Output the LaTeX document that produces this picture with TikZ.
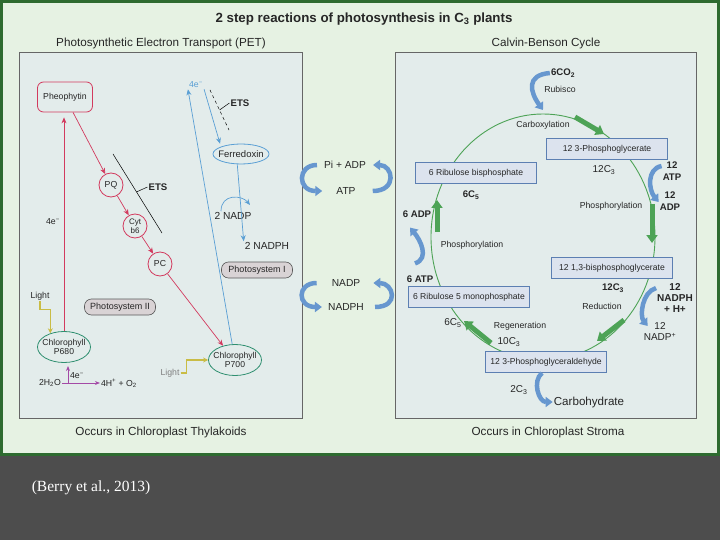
\documentclass[tikz,border=0pt]{standalone}
\usepackage{fontspec}
\setmainfont{Liberation Sans}
\newfontfamily\citefont{Liberation Serif}
\usetikzlibrary{arrows.meta,shapes.geometric,calc}
\definecolor{slidegray}{HTML}{4D4D4D}
\definecolor{framegreen}{HTML}{2E6B30}
\definecolor{framefill}{HTML}{E6F2E3}
\definecolor{panelfill}{HTML}{E3ECEB}
\definecolor{petred}{HTML}{D23A5E}
\definecolor{chlgreen}{HTML}{2F8F70}
\definecolor{etsblue}{HTML}{5A9FD4}
\definecolor{pillfill}{HTML}{D9D3D5}
\definecolor{boxfill}{HTML}{DCE3EE}
\definecolor{boxedge}{HTML}{5C7FB2}
\definecolor{arrblue}{HTML}{6797CF}
\definecolor{cycgreen}{HTML}{4DA356}
\definecolor{olive}{HTML}{C9BC45}
\definecolor{purp}{HTML}{A44AA6}
\tikzset{
  lbl/.style={font=\fontsize{8.7}{10}\selectfont, inner sep=1pt, text=black!85},
  clbl/.style={lbl, font=\fontsize{10}{11}\selectfont},
  blbl/.style={lbl, font=\bfseries\fontsize{9.6}{12}\selectfont, align=center},
  mlbl/.style={lbl, font=\fontsize{10.2}{11}\selectfont},
  head/.style={font=\fontsize{11.7}{13}\selectfont, text=black!85},
  panel/.style={draw=black!60, line width=0.8pt, fill=panelfill},
  redbox/.style={lbl, draw=petred, line width=0.8pt, rounded corners=6pt, minimum width=55pt, minimum height=30pt},
  redcirc/.style={lbl, circle, draw=petred, line width=0.8pt, minimum size=24pt, inner sep=-2pt},
  chl/.style={lbl, ellipse, draw=chlgreen, line width=0.8pt, minimum width=53pt, minimum height=31pt, inner sep=-5pt, align=center, font=\fontsize{8.6}{9}\selectfont},
  pill/.style={lbl, draw=black!65, fill=pillfill, line width=0.6pt, rounded corners=7pt, minimum width=71pt, minimum height=16pt, font=\fontsize{9}{10}\selectfont},
  cbox/.style={lbl, draw=boxedge, fill=boxfill, line width=1pt, minimum width=121pt, minimum height=21pt, font=\fontsize{8.6}{9}\selectfont},
  redarr/.style={-{Stealth[length=6pt,width=5pt]}, draw=petred, line width=0.7pt},
  bluearr/.style={-{Stealth[length=6pt,width=5pt]}, draw=etsblue, line width=0.7pt},
  etsline/.style={draw=black, line width=0.5pt},
  lightarr/.style={-{Stealth[length=5pt,width=5pt]}, draw=olive, line width=1.3pt},
  purparr/.style={-{Stealth[length=5pt,width=4pt]}, draw=purp, line width=0.9pt},
  bigarr/.style={-{Triangle[length=7pt,width=10pt]}, draw=arrblue, line width=4.5pt},
  cycarr/.style={-{Triangle[length=8pt,width=11pt]}, draw=cycgreen, line width=5pt},
}
\begin{document}
\begin{tikzpicture}[x=1pt,y=-1pt]
\useasboundingbox (0,0) rectangle (720,540);
% --- slide + frame ---
\fill[slidegray] (0,0) rectangle (720,540);
\draw[framegreen, line width=2.5pt, fill=framefill] (1.5,1.5) rectangle (718.5,454.5);
\node[text=white, font=\citefont\fontsize{15.5}{17}\selectfont] (cite) at (91,488) {(Berry et al., 2013)};

% --- titles + panels ---
\node[font=\bfseries\fontsize{13.3}{15}\selectfont, text=black!85] (title) at (364,19) {2 step reactions of photosynthesis in C\textsubscript{3} plants};
\node[head] (pethead) at (161,43) {Photosynthetic Electron Transport (PET)};
\node[head] (cbhead) at (546,43) {Calvin-Benson Cycle};
\draw[panel] (19,52) rectangle (302,418);
\draw[panel] (395,52) rectangle (696,418);
\node[head] (thyl) at (161,432) {Occurs in Chloroplast Thylakoids};
\node[head] (strom) at (548,432) {Occurs in Chloroplast Stroma};

% --- PET: carriers ---
\node[redbox] (pheo) at (65,97) {Pheophytin};
\node[redcirc] (pq) at (111,185) {PQ};
\node[redcirc, align=center, font=\fontsize{8}{8.5}\selectfont] (cyt) at (135,226) {Cyt\\b6};
\node[redcirc] (pc) at (160,264) {PC};
\node[chl] (p680) at (64,347) {Chlorophyll\\P680};
\node[chl] (p700) at (235,360) {Chlorophyll\\P700};
\node[lbl, ellipse, draw=etsblue, line width=0.8pt, minimum width=56pt, minimum height=20pt, inner sep=-5pt, font=\fontsize{9.5}{10}\selectfont] (ferr) at (241,154) {Ferredoxin};
\node[pill] (ps2) at (120,307) {Photosystem II};
\node[pill] (ps1) at (257,270) {Photosystem I};

% --- PET: labels ---
\node[lbl] (e4a) at (53,222) {4e\textsuperscript{−}};
\node[lbl, text=etsblue] (e4b) at (196,85) {4e\textsuperscript{−}};
\node[blbl] (ets1) at (158,187) {ETS};
\node[blbl] (ets2) at (240,103) {ETS};
\node[mlbl] (nadp2) at (233,216) {2 NADP};
\node[mlbl] (nadph2) at (267,246) {2 NADPH};
\node[lbl] (light1) at (40,296) {Light};
\node[lbl, text=black!50] (light2) at (170,373) {Light};
\node[lbl] (h2o) at (50,383) {2H\textsubscript{2}O};
\node[lbl] (hplus) at (119,383) {4H\textsuperscript{+} + O\textsubscript{2}};
\node[lbl] (e4c) at (77,376) {4e\textsuperscript{−}};

% --- PET: electron flow ---
\draw[redarr, shorten >=5pt] (p680.north) -- (p680.north |- pheo.south);
\draw[redarr] (pheo) -- (pq);
\draw[redarr] (pq) -- (cyt);
\draw[redarr] (cyt) -- (pc);
\draw[redarr] (pc) -- (p700.130);
\draw[bluearr] (p700.100) -- (e4b.south west);
\draw[bluearr, shorten >=3pt] (e4b.south east) -- (ferr.north west);
\draw[bluearr] (ferr.250) -- (nadph2.north west);
\coordinate (arcend) at (250,205);
\draw[bluearr] ([xshift=-12pt]nadp2.north) .. controls +(0,-18) and +(-8,-10) .. (arcend);

% ETS brackets
\coordinate (ets1a) at (113,154); \coordinate (ets1b) at (162,233);
\draw[etsline] (ets1a) -- (ets1b);
\draw[etsline] ($(ets1a)!0.48!(ets1b)$) -- (ets1.west);
\coordinate (ets2a) at (210,90); \coordinate (ets2b) at (229,130);
\draw[etsline, dashed] (ets2a) -- (ets2b);
\draw[etsline] ($(ets2a)!0.5!(ets2b)$) -- (ets2.west);

% light + water splitting
\draw[lightarr] (light1.south) -- ++(0,8) -| (p680.135);
\draw[lightarr] (light2.east) -- ++(6,0) |- (p700.west);
\coordinate (split) at (68,383);
\draw[purparr] (h2o.east) -- (hplus.west);
\draw[purparr] (split) -- ++(0,-17);

% --- exchange between panels ---
\node[mlbl] (piadp) at (345,165) {Pi + ADP};
\node[mlbl] (atp) at (346,191) {ATP};
\node[mlbl] (nadp) at (346,283) {NADP};
\node[mlbl] (nadph) at (346,307) {NADPH};
\draw[bigarr] ([xshift=-6pt]piadp.west) .. controls +(-20,0) and +(-25,0) .. ([xshift=-13pt]atp.west);
\draw[bigarr] ([xshift=16pt]atp.east) .. controls +(25,0) and +(20,0) .. ([xshift=6pt]piadp.east);
\draw[bigarr] ([xshift=-14pt]nadp.west) .. controls +(-20,0) and +(-25,0) .. ([xshift=-5pt]nadph.west);
\draw[bigarr] ([xshift=10pt]nadph.east) .. controls +(25,0) and +(20,0) .. ([xshift=12pt]nadp.east);

% --- Calvin-Benson cycle ---
\draw[cycgreen, line width=0.9pt] (543,237) ellipse [x radius=112, y radius=123];
\coordinate (g1a) at (575,117); \coordinate (g1b) at (604,134);
\coordinate (g2a) at (652,204); \coordinate (g2b) at (652,243);
\coordinate (g3a) at (624,320); \coordinate (g3b) at (597,341);
\coordinate (g4a) at (491,343); \coordinate (g4b) at (464,321);
\coordinate (g5a) at (437,232); \coordinate (g5b) at (437,200);
\foreach \i in {1,...,5} {
  \draw[cycarr] (g\i a) -- (g\i b);
}

\node[cbox] (pga) at (607,149) {12 3-Phosphoglycerate};
\node[cbox] (rubp) at (476,173) {6 Ribulose bisphosphate};
\node[cbox] (bpga) at (612,268) {12 1,3-bisphosphoglycerate};
\node[cbox] (ru5p) at (469,297) {6 Ribulose 5 monophosphate};
\node[cbox] (gald) at (546,362) {12 3-Phosphoglyceraldehyde};

\node[blbl] (co2) at (563,73) {6CO\textsubscript{2}};
\node[lbl] (rubisco) at (560,89) {Rubisco};
\node[lbl] (carbx) at (543,125) {Carboxylation};
\node[clbl] (c3a) at (604,170) {12C\textsubscript{3}};
\node[blbl] (atp12) at (672,171) {12\\ATP};
\node[blbl] (adp12) at (670,201) {12\\ADP};
\node[blbl] (c5a) at (471,195) {6C\textsubscript{5}};
\node[lbl] (phosr) at (611,206) {Phosphorylation};
\node[blbl] (adp6) at (417,214) {6 ADP};
\node[lbl] (phosl) at (472,245) {Phosphorylation};
\node[blbl] (atp6) at (420,279) {6 ATP};
\node[blbl] (c3b) at (613,288) {12C\textsubscript{3}};
\node[blbl, font=\bfseries\fontsize{10}{11}\selectfont] (nadph12) at (675,298) {12\\NADPH\\+ H+};
\node[lbl] (reduc) at (602,306) {Reduction};
\node[clbl, align=center] (nadp12) at (660,332) {12\\NADP\textsuperscript{+}};
\node[clbl] (c5b) at (453,323) {6C\textsubscript{5}};
\node[lbl] (regen) at (520,326) {Regeneration};
\node[clbl] (c3c) at (509,342) {10C\textsubscript{3}};
\node[clbl] (c3d) at (519,390) {2C\textsubscript{3}};
\node[lbl, font=\fontsize{11.6}{13}\selectfont] (carb) at (589,402) {Carbohydrate};

\coordinate (carbtop) at (543,110);
\draw[bigarr] (co2.west) .. controls +(-24,2) and +(-13,-18) .. (carbtop);
\draw[bigarr] ([yshift=5pt]atp12.west) .. controls +(-15,3) and +(-10,-12) .. ([yshift=-1pt]adp12.west);
\draw[bigarr] ([xshift=-5pt,yshift=11pt]atp6.north) .. controls +(15,-5) and +(10,12) .. ([xshift=-7pt,yshift=-9pt]adp6.south);
\draw[bigarr] ([yshift=10pt]nadph12.west) .. controls +(-14,4) and +(-8,-10) .. ([xshift=5pt,yshift=6pt]nadp12.west);
\draw[bigarr] ([xshift=-4pt]gald.south) .. controls +(-10,8) and +(-14,0) .. (carb.west);
\end{tikzpicture}
\end{document}
